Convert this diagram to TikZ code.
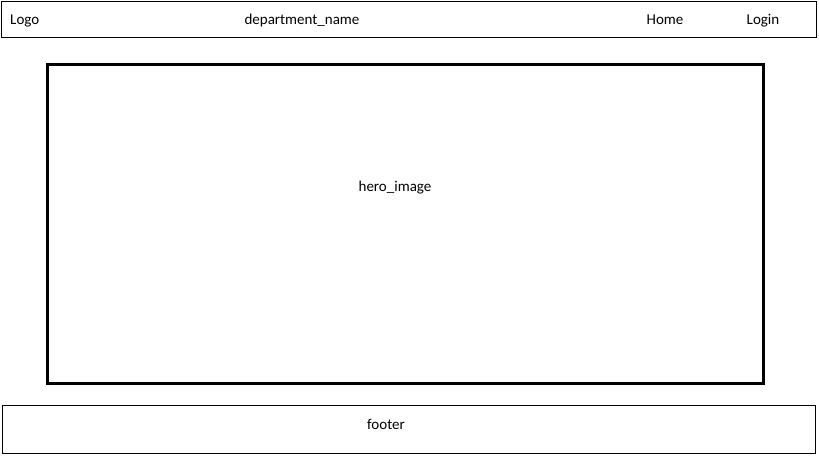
\documentclass[tikz,border=0pt]{standalone}
\usepackage{fontspec}
\setmainfont{Carlito}
\usetikzlibrary{positioning}

\tikzset{
  frame/.style={draw=black, line width=1pt},
  heroframe/.style={draw=black, line width=3pt},
  lbl/.style={font=\fontsize{15}{17}\selectfont, inner sep=0pt, anchor=base}
}

\begin{document}
\begin{tikzpicture}[x=1pt, y=-1pt]
\useasboundingbox (0,0) rectangle (819,460);

\coordinate (NW) at (1.5,1.5);
\coordinate (NE) at (816,38);
\draw[frame] (NW) rectangle (NE);

\coordinate (HW) at (47,65);
\coordinate (HE) at (763,383);
\draw[heroframe] (HW) rectangle (HE);

\coordinate (FW) at (2,405);
\coordinate (FE) at (815,453);
\draw[frame] (FW) rectangle (FE);

\node[lbl, anchor=base west] (logo) at (10,24.5) {Logo};
\node[lbl] (dept) at (302,24.5) {department\_name};
\node[lbl] (home) at (665,24.5) {Home};
\node[lbl] (login) at (763,24.5) {Login};
\node[lbl] (hero) at (395,191.5) {hero\_image};
\node[lbl] (footer) at (386,429.5) {footer};

\end{tikzpicture}
\end{document}
